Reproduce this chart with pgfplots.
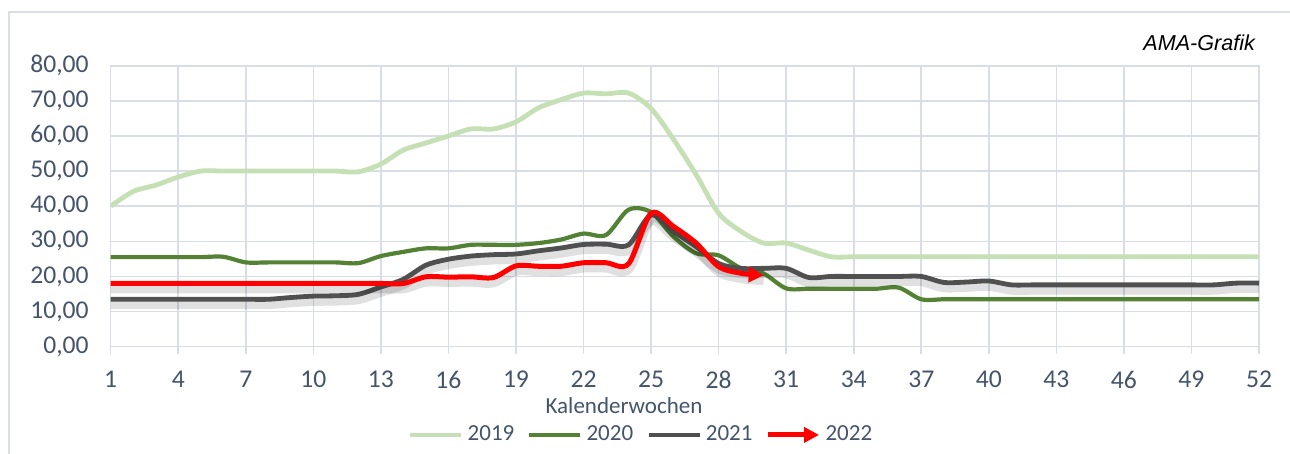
\documentclass[border=0pt]{standalone}
\usepackage{fontspec}
\setmainfont{Carlito}
\newfontfamily\arialfont{Liberation Sans}
\usepackage{pgfplots}
\usepackage{pgfplotstable}
\pgfplotsset{compat=1.18}
\usetikzlibrary{arrows.meta}
\definecolor{c19}{HTML}{C5E0B4}
\definecolor{c20}{HTML}{548235}
\definecolor{c21}{HTML}{505050}
\definecolor{c22}{HTML}{FF0000}
\definecolor{gridc}{HTML}{D9DEE6}
\definecolor{txtc}{HTML}{44546A}
\newlength\pxu \setlength\pxu{0.5bp}

\pgfplotstableread{
w v
1 40
2 44.2
3 46
4 48.3
5 50
6 50
7 50
8 50
9 50
10 50
11 50
12 49.8
13 52
14 56
15 58
16 60
17 62
18 62
19 64
20 68
21 70.3
22 72.2
23 72
24 72.2
25 67.8
26 59
27 49
28 38
29 32.8
30 29.5
31 29.5
32 27.5
33 25.6
34 25.6
35 25.6
36 25.6
37 25.6
38 25.6
39 25.6
40 25.6
41 25.6
42 25.6
43 25.6
44 25.6
45 25.6
46 25.6
47 25.6
48 25.6
49 25.6
50 25.6
51 25.6
52 25.6
}\tA

\pgfplotstableread{
w v
1 25.5
2 25.5
3 25.5
4 25.5
5 25.5
6 25.6
7 24
8 24
9 24
10 24
11 24
12 23.8
13 25.8
14 27
15 28
16 28
17 29
18 29
19 29
20 29.5
21 30.5
22 32.2
23 31.8
24 39
25 38.3
26 31.3
27 26.6
28 26
29 22.3
30 20.8
31 16.6
32 16.5
33 16.5
34 16.5
35 16.5
36 16.8
37 13.5
38 13.5
39 13.5
40 13.5
41 13.5
42 13.5
43 13.5
44 13.5
45 13.5
46 13.5
47 13.5
48 13.5
49 13.5
50 13.5
51 13.5
52 13.5
}\tB

\pgfplotstableread{
w v
1 13.5
2 13.5
3 13.5
4 13.5
5 13.5
6 13.5
7 13.5
8 13.5
9 14
10 14.4
11 14.5
12 14.9
13 17
14 19.2
15 23.2
16 24.9
17 25.8
18 26.2
19 26.4
20 27.3
21 28.1
22 29.1
23 29.2
24 29
25 37.5
26 32.8
27 28.5
28 23.7
29 22.3
30 22.3
31 22.3
32 19.7
33 20
34 20
35 20
36 20
37 20
38 18.3
39 18.4
40 18.7
41 17.6
42 17.6
43 17.6
44 17.6
45 17.6
46 17.6
47 17.6
48 17.6
49 17.6
50 17.6
51 18.1
52 18.1
}\tC

\pgfplotstableread{
w v
1 18
2 18
3 18
4 18
5 18
6 18
7 18
8 18
9 18
10 18
11 18
12 18
13 18
14 18
15 19.9
16 19.8
17 19.9
18 19.7
19 23
20 22.9
21 22.9
22 23.9
23 23.9
24 23.6
25 38
26 34.2
27 29.5
28 22.8
29 20.9
30 20.3
}\tD

\begin{document}
\begin{tikzpicture}[x=\pxu,y=\pxu]
\path[use as bounding box] (0,0) rectangle (1290,454);
\draw[gridc, line width=2\pxu] (9,-5) -- (9,442) -- (1295,442);
\begin{axis}[
  at={(110.7\pxu,107.3\pxu)}, anchor=south west,
  scale only axis, width=1148.3\pxu, height=281\pxu,
  xmin=1, xmax=52, ymin=0, ymax=80,
  xtick={1,4,...,52}, ytick={0,10,...,80},
  grid=major,
  major grid style={gridc, line width=1.6\pxu},
  axis line style={gridc, line width=1.6\pxu},
  xtick style={gridc, line width=1.6\pxu},
  ytick style={draw=none},
  tick align=outside, major tick length=7\pxu,
  xtick pos=bottom, ytick pos=left,
  tick label style={font=\fontsize{12.8bp}{15bp}\selectfont, text=txtc},
  xticklabel style={yshift=-10.5\pxu, /pgf/number format/assume math mode=true},
  yticklabel style={xshift=-8\pxu, /pgf/number format/.cd, fixed, fixed zerofill, precision=2, use comma, assume math mode=true},
  legend columns=4,
  legend style={draw=none, fill=none, at={(0.4627,-0.314)}, anchor=center,
    font=\fontsize{11.5bp}{13bp}\selectfont, text=txtc,
    /tikz/every even column/.append style={column sep=9\pxu},
    inner sep=0pt},
  legend image code/.code={\draw[#1] (0pt,0pt) -- (25.5bp,0pt);},
]
\addplot[c19, line width=2.4bp, smooth, tension=0.5] table[x=w,y=v] {\tA};
\addlegendentry{2019}
\addplot[c20, line width=2.1bp, smooth, tension=0.5] table[x=w,y=v] {\tB};
\addlegendentry{2020}
\addplot[black, opacity=0.12, line width=5bp, smooth, tension=0.5, yshift=-2.4bp, forget plot] table[x=w,y=v] {\tC};
\addplot[c21, line width=2.4bp, smooth, tension=0.5] table[x=w,y=v] {\tC};
\addlegendentry{2021}
\addplot[black, opacity=0.12, line width=5bp, smooth, tension=0.5, yshift=-2.4bp, forget plot] table[x=w,y=v] {\tD};
\addplot[c22, line width=2.5bp, smooth, tension=0.5, -{Triangle[length=7.5bp,width=7.5bp]}] table[x=w,y=v] {\tD};
\addlegendentry{2022}
\end{axis}
\node[anchor=east, font=\arialfont\itshape\fontsize{10.8bp}{13bp}\selectfont, text=black] at (1262,411) {AMA-Grafik};
\node[font=\fontsize{11.5bp}{13bp}\selectfont, text=txtc] at (624,48) {Kalenderwochen};
\end{tikzpicture}
\end{document}
